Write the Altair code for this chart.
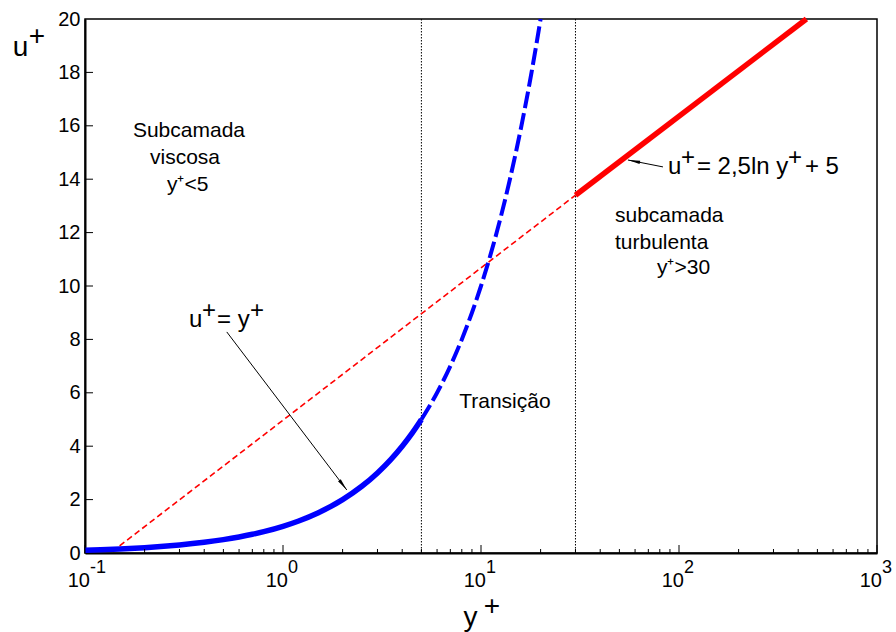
import altair as alt
import pandas as pd

FONT = "Liberation Sans"

# ---------------- data ----------------
# viscous sublayer  u+ = y+  (solid blue)
visc_y = [0.1, 0.12, 0.15, 0.2, 0.25, 0.3, 0.4, 0.5, 0.6, 0.7, 0.8, 1.0, 1.2, 1.5, 2.0, 2.5, 3.0, 3.5, 4.0, 4.5, 5.0]
visc_u = [0.1, 0.12, 0.15, 0.2, 0.25, 0.3, 0.4, 0.5, 0.6, 0.7, 0.8, 1.0, 1.2, 1.5, 2.0, 2.5, 3.0, 3.5, 4.0, 4.5, 5.0]
# continuation of u+ = y+ (dashed blue)
buf_y = [5, 6, 7, 8, 9, 10, 11, 12, 14, 16, 18, 20]
buf_u = [5, 6, 7, 8, 9, 10, 11, 12, 14, 16, 18, 20]
# log law, dashed part and solid part (red)
logd_y = [0.137, 30]
logd_u = [0.05, 13.4]
logs_y = [30, 440]
logs_u = [13.4, 20.0]
# zone limits
zone_limits = [5, 30]
# axes
x_major = [0.1, 1, 10, 100, 1000]
x_exp = ["-1", "0", "1", "2", "3"]
x_minor = [0.2, 0.3, 0.4, 0.5, 0.6, 0.7, 0.8, 0.9,
           2, 3, 4, 5, 6, 7, 8, 9,
           20, 30, 40, 50, 60, 70, 80, 90,
           200, 300, 400, 500, 600, 700, 800, 900]
y_vals = [0, 2, 4, 6, 8, 10, 12, 14, 16, 18, 20]
y_inner = [2, 4, 6, 8, 10, 12, 14, 16, 18]

# annotations
center_txt = ["Subcamada", "viscosa", "y\u207a<5", "Transi\u00e7\u00e3o"]
center_x = [0.335, 0.32, 0.33, 13.2]
center_y = [15.8, 14.8, 13.8, 5.66]
left_txt = ["subcamada", "turbulenta", "y\u207a>30"]
left_x = [47.5, 47.5, 77.4]
left_y = [12.62, 11.61, 10.67]
# equations, written in pieces so that the "+" can be raised at full size
eq1_parts = ["u", "+", "= y", "+"]
eq1_x, eq1_y = 0.335, 8.46
eq2_parts = ["u", "+", "= 2,5ln y", "+", "+ 5"]
eq2_x, eq2_y = 87.9, 14.2
arrow_x1 = [0.52, 83.0]
arrow_y1 = [8.28, 14.46]
arrow_x2 = [2.1, 55.2]
arrow_y2 = [2.36, 14.72]
arrow_ang = [142.8, 281.3]

PW, PH = 792, 534

xs = alt.Scale(type="log", domain=[0.1, 1000], nice=False)
ys = alt.Scale(domain=[0, 20], nice=False)

xaxis = alt.Axis(labels=False, ticks=False, tickSize=0, grid=False,
                 domainColor="black", domainWidth=2,
                 title="y", titleFont=FONT, titleFontSize=28, titleFontWeight="normal",
                 titleColor="black", titleX=385, titleY=72, titleAlign="center",
                 titleBaseline="alphabetic", titleAngle=0)
yaxis = alt.Axis(values=y_vals, ticks=False, tickSize=0, grid=False,
                 domainColor="black", domainWidth=2,
                 labelFont=FONT, labelFontSize=20, labelColor="black", labelPadding=5,
                 title="u", titleFont=FONT, titleFontSize=28, titleFontWeight="normal",
                 titleColor="black", titleX=-65, titleY=36, titleAlign="center",
                 titleBaseline="alphabetic", titleAngle=0)


def X(f):
    return alt.X(f, type="quantitative", scale=xs, axis=xaxis)


def Y(f):
    return alt.Y(f, type="quantitative", scale=ys, axis=yaxis)


visc = pd.DataFrame({"y": visc_y, "u": visc_u})
buf = pd.DataFrame({"y": buf_y, "u": buf_u})
logd = pd.DataFrame({"y": logd_y, "u": logd_u})
logs = pd.DataFrame({"y": logs_y, "u": logs_u})
zones = pd.DataFrame({"y": zone_limits})
arrows = pd.DataFrame({"x1": arrow_x1, "y1": arrow_y1, "x2": arrow_x2, "y2": arrow_y2, "ang": arrow_ang})

zone_rules = alt.Chart(zones).mark_rule(color="black", strokeWidth=1, strokeDash=[1.5, 1.5]).encode(
    x=X("y"), y=alt.value(0), y2=alt.value(PH))

red_dash = alt.Chart(logd).mark_line(color="#ff0000", strokeWidth=1.6, strokeDash=[6, 3.5]).encode(
    x=X("y"), y=Y("u"))
red_solid = alt.Chart(logs).mark_line(color="#ff0000", strokeWidth=5.5).encode(
    x=X("y"), y=Y("u"))
blue_solid = alt.Chart(visc).mark_line(color="#0000ff", strokeWidth=5.5, interpolate="monotone").encode(
    x=X("y"), y=Y("u"))
blue_dash = alt.Chart(buf).mark_line(color="#0000ff", strokeWidth=4, strokeDash=[17, 5],
                                     interpolate="monotone").encode(x=X("y"), y=Y("u"))

arrow_lines = alt.Chart(arrows).mark_rule(color="black", strokeWidth=1).encode(
    x=X("x1"), y=Y("y1"), x2="x2", y2="y2")
arrow_heads = alt.Chart(arrows).mark_point(
    shape="M0,0 L-0.28,2 L0.28,2 Z", filled=True, color="black", opacity=1, size=150, strokeWidth=0
).encode(x=X("x2"), y=Y("y2"), angle=alt.Angle("ang:Q", scale=None))

t_center = alt.Chart(pd.DataFrame({"t": center_txt, "x": center_x, "y": center_y})).mark_text(
    font=FONT, fontSize=21, color="black", align="center", baseline="middle").encode(
    x=X("x"), y=Y("y"), text="t:N")
t_left = alt.Chart(pd.DataFrame({"t": left_txt, "x": left_x, "y": left_y})).mark_text(
    font=FONT, fontSize=21, color="black", align="left", baseline="middle").encode(
    x=X("x"), y=Y("y"), text="t:N")


def equation(parts, ax, ay, offsets, raised):
    layers = []
    for part, off, up in zip(parts, offsets, raised):
        df = pd.DataFrame({"t": [part], "x": [ax], "y": [ay]})
        layers.append(alt.Chart(df).mark_text(
            font=FONT, fontSize=24, color="black", align="left", baseline="alphabetic",
            dx=off, dy=-9 if up else 0).encode(x=X("x"), y=Y("y"), text="t:N"))
    return layers


eq1_layers = equation(eq1_parts, eq1_x, eq1_y, [0, 13, 28, 61], [False, True, False, True])
eq2_layers = equation(eq2_parts, eq2_x, eq2_y, [0, 13, 29, 120, 137], [False, True, False, True, False])

# inward ticks
xmaj = alt.Chart(pd.DataFrame({"v": x_major})).mark_rule(color="black", strokeWidth=1).encode(
    x=X("v"), y=alt.value(PH), y2=alt.value(PH - 8))
xmin = alt.Chart(pd.DataFrame({"v": x_minor})).mark_rule(color="black", strokeWidth=1).encode(
    x=X("v"), y=alt.value(PH), y2=alt.value(PH - 4))
ytk = alt.Chart(pd.DataFrame({"v": y_inner})).mark_rule(color="black", strokeWidth=1).encode(
    y=Y("v"), x=alt.value(0), x2=alt.value(8))

# x tick labels: 10 with raised exponent
xl = pd.DataFrame({"v": x_major, "b": ["10"] * len(x_major), "e": x_exp})
xlab_base = alt.Chart(xl).mark_text(font=FONT, fontSize=20, color="black", align="right",
                                    baseline="alphabetic", dx=5).encode(
    x=X("v"), y=alt.value(PH + 34), text="b:N")
xlab_exp = alt.Chart(xl).mark_text(font=FONT, fontSize=18, color="black", align="left",
                                   baseline="alphabetic", dx=5).encode(
    x=X("v"), y=alt.value(PH + 20), text="e:N")

# raised "+" of the axis titles
plus_df = pd.DataFrame({"t": ["+"]})
plus_x = alt.Chart(plus_df).mark_text(font=FONT, fontSize=28, color="black", align="center",
                                      baseline="alphabetic").encode(
    x=alt.value(407), y=alt.value(596), text="t:N")
plus_u = alt.Chart(plus_df).mark_text(font=FONT, fontSize=28, color="black", align="center",
                                      baseline="alphabetic").encode(
    x=alt.value(-48), y=alt.value(26), text="t:N")

chart = alt.layer(
    zone_rules, red_dash, blue_solid, blue_dash, red_solid,
    arrow_lines, arrow_heads, t_center, t_left, *eq1_layers, *eq2_layers,
    xmaj, xmin, ytk, xlab_base, xlab_exp, plus_x, plus_u
).properties(
    width=PW, height=PH,
    autosize=alt.AutoSizeParams(type="none"),
    padding={"left": 85, "top": 19, "right": 19, "bottom": 79},
    background="white",
).configure(font=FONT).configure_view(stroke="black", strokeWidth=1.5)

chart.save("out.html", embed_options={"renderer": "svg", "actions": False})
